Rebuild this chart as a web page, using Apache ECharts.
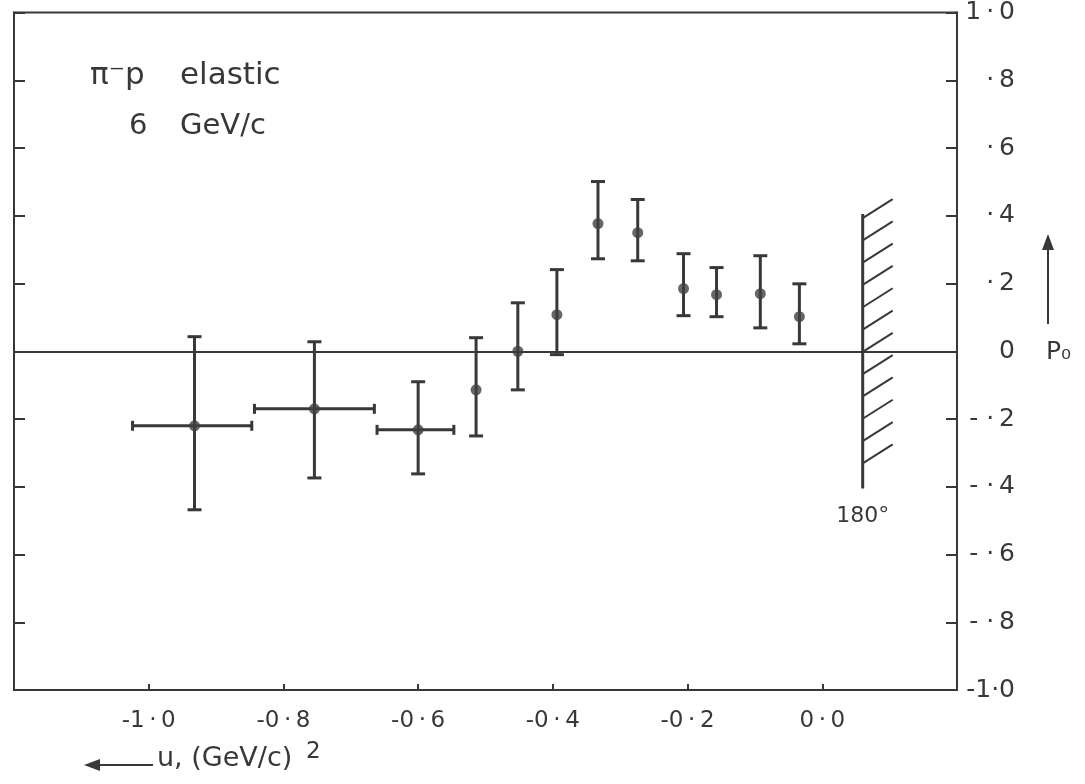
<!DOCTYPE html>
<html>
<head>
<meta charset="utf-8">
<script src="https://cdn.jsdelivr.net/npm/echarts@6/dist/echarts.min.js"></script>
<style>
  html, body { margin: 0; padding: 0; background: #ffffff; }
  #chart { width: 1085px; height: 784px; }
</style>
</head>
<body>
<div id="chart"></div>
<script>
// ---- data ----
// u (GeV/c)^2 of each point
var uValues = [-0.932, -0.754, -0.600, -0.514, -0.452, -0.394, -0.333, -0.274, -0.206, -0.157, -0.092, -0.034];
// polarisation P0
var pValues = [-0.220, -0.170, -0.232, -0.114, 0.000, 0.108, 0.377, 0.350, 0.185, 0.167, 0.170, 0.102];
// lower / upper ends of vertical error bars
var pLow  = [-0.468, -0.374, -0.362, -0.250, -0.114, -0.010, 0.273, 0.267, 0.105, 0.102, 0.069, 0.022];
var pHigh = [ 0.043,  0.028, -0.090,  0.040,  0.143,  0.241, 0.501, 0.448, 0.288, 0.247, 0.282, 0.199];
// horizontal bin ends (only first three points)
var uLow  = [-1.024, -0.843, -0.661, null, null, null, null, null, null, null, null, null];
var uHigh = [-0.847, -0.665, -0.547, null, null, null, null, null, null, null, null, null];
// 180 degree kinematic limit
var limitU = 0.06;
var limitPLow = -0.405;
var limitPHigh = 0.405;
// axis ticks
var xTickValues = [-1.0, -0.8, -0.6, -0.4, -0.2, 0.0];
var xTickLabels = ['-1\u2009·\u20090', '-0\u2009·\u20098', '-0\u2009·\u20096', '-0\u2009·\u20094', '-0\u2009·\u20092', '0\u2009·\u20090'];
var yTickValues = [1.0, 0.8, 0.6, 0.4, 0.2, 0.0, -0.2, -0.4, -0.6, -0.8, -1.0];
var yTickLabels = ['1\u2009·\u20090', '·\u20098', '·\u20096', '·\u20094', '·\u20092', '0', '- ·\u20092', '- ·\u20094', '- ·\u20096', '- ·\u20098', '-1·0'];

var INK = '#383838';
var FONT = 'DejaVu Sans';

function lookup(values, labels, v) {
  for (var i = 0; i < values.length; i++) {
    if (Math.abs(values[i] - v) < 1e-6) return labels[i];
  }
  return '';
}

var pointData = uValues.map(function (u, i) { return [u, pValues[i]]; });
var barData = uValues.map(function (u, i) { return [u, pValues[i], pLow[i], pHigh[i]]; });

var chart = echarts.init(document.getElementById('chart'));
chart.setOption({
  backgroundColor: '#ffffff',
  animation: false,
  grid: { left: 14, right: 128, top: 12, bottom: 94, show: true, borderColor: INK, borderWidth: 2, backgroundColor: 'transparent' },
  xAxis: {
    type: 'value', min: -1.2, max: 0.2, interval: 0.2,
    axisLine: { show: true, onZero: false, lineStyle: { color: INK, width: 2 } },
    axisTick: { show: true, inside: true, length: 6, lineStyle: { color: INK, width: 2 } },
    splitLine: { show: false },
    axisLabel: {
      margin: 20, color: INK, fontFamily: FONT, fontSize: 23,
      formatter: function (v) { return lookup(xTickValues, xTickLabels, v); }
    }
  },
  yAxis: [{
    type: 'value', position: 'right', min: -1, max: 1, interval: 0.2,
    axisLine: { show: true, onZero: false, lineStyle: { color: INK, width: 2 } },
    axisTick: { show: true, inside: true, length: 11, lineStyle: { color: INK, width: 2 } },
    splitLine: { show: false },
    axisLabel: {
      margin: 58, align: 'right', color: INK, fontFamily: FONT, fontSize: 25,
      formatter: function (v) { return lookup(yTickValues, yTickLabels, v); }
    }
  }, {
    type: 'value', position: 'left', min: -1, max: 1, interval: 0.2,
    axisLine: { show: true, onZero: false, lineStyle: { color: INK, width: 2 } },
    axisTick: { show: true, inside: true, length: 11, lineStyle: { color: INK, width: 2 } },
    splitLine: { show: false },
    axisLabel: { show: false }
  }],
  series: [
    {
      type: 'custom',
      name: 'errors',
      silent: true,
      data: barData,
      renderItem: function (params, api) {
        var i = params.dataIndex;
        var lo = api.coord([api.value(0), api.value(2)]);
        var hi = api.coord([api.value(0), api.value(3)]);
        var st = { stroke: INK, lineWidth: 3 };
        var cap = 7;
        var children = [
          { type: 'line', shape: { x1: lo[0], y1: lo[1], x2: hi[0], y2: hi[1] }, style: st },
          { type: 'line', shape: { x1: lo[0] - cap, y1: lo[1], x2: lo[0] + cap, y2: lo[1] }, style: st },
          { type: 'line', shape: { x1: hi[0] - cap, y1: hi[1], x2: hi[0] + cap, y2: hi[1] }, style: st }
        ];
        if (uLow[i] !== null && uHigh[i] !== null) {
          var l = api.coord([uLow[i], api.value(1)]);
          var r = api.coord([uHigh[i], api.value(1)]);
          var cv = 5;
          children.push(
            { type: 'line', shape: { x1: l[0], y1: l[1], x2: r[0], y2: r[1] }, style: st },
            { type: 'line', shape: { x1: l[0], y1: l[1] - cv, x2: l[0], y2: l[1] + cv }, style: st },
            { type: 'line', shape: { x1: r[0], y1: r[1] - cv, x2: r[0], y2: r[1] + cv }, style: st }
          );
        }
        return { type: 'group', children: children };
      },
      z: 3
    },
    {
      type: 'scatter',
      name: 'P0',
      data: pointData,
      symbol: 'circle',
      symbolSize: 11,
      itemStyle: { color: '#404040' },
      z: 4,
      markLine: {
        silent: true, symbol: ['none', 'none'], label: { show: false },
        lineStyle: { color: INK, width: 2, type: 'solid' },
        data: [{ yAxis: 0 }]
      }
    },
    {
      type: 'custom',
      name: 'limit',
      silent: true,
      data: [[limitU, limitPLow, limitPHigh]],
      renderItem: function (params, api) {
        var top = api.coord([api.value(0), api.value(2)]);
        var bot = api.coord([api.value(0), api.value(1)]);
        var st = { stroke: INK, lineWidth: 2 };
        var children = [
          { type: 'line', shape: { x1: top[0], y1: top[1], x2: bot[0], y2: bot[1] }, style: { stroke: INK, lineWidth: 3 } }
        ];
        for (var y = top[1] + 4; y <= bot[1] - 4; y += 22.3) {
          children.push({ type: 'line', shape: { x1: top[0], y1: y, x2: top[0] + 30, y2: y - 19 }, style: st });
        }
        children.push({
          type: 'text',
          style: { x: bot[0], y: bot[1] + 28, text: '180°', fill: INK, font: '22px ' + FONT, align: 'center', verticalAlign: 'middle' }
        });
        return { type: 'group', children: children };
      },
      z: 2
    }
  ],
  graphic: [
    { type: 'text', x: 90, y: 76, style: { text: 'π⁻p', fill: INK, font: '31px ' + FONT, verticalAlign: 'middle' } },
    { type: 'text', x: 180, y: 76, style: { text: 'elastic', fill: INK, font: '31px ' + FONT, verticalAlign: 'middle' } },
    { type: 'text', x: 129, y: 126, style: { text: '6', fill: INK, font: '29px ' + FONT, verticalAlign: 'middle' } },
    { type: 'text', x: 180, y: 126, style: { text: 'GeV/c', fill: INK, font: '29px ' + FONT, verticalAlign: 'middle' } },
    // P0 label and arrow
    { type: 'text', x: 1046, y: 352, style: { text: 'P₀', fill: INK, font: '25px ' + FONT, verticalAlign: 'middle' } },
    { type: 'line', shape: { x1: 1048, y1: 324, x2: 1048, y2: 246 }, style: { stroke: INK, lineWidth: 2 } },
    { type: 'polygon', shape: { points: [[1042, 250], [1048, 234], [1054, 250]] }, style: { fill: INK } },
    // x axis name with arrow
    { type: 'line', shape: { x1: 96, y1: 765, x2: 153, y2: 765 }, style: { stroke: INK, lineWidth: 2 } },
    { type: 'polygon', shape: { points: [[84, 765], [100, 759], [100, 771]] }, style: { fill: INK } },
    { type: 'text', x: 157, y: 759, style: { text: 'u, (GeV/c)', fill: INK, font: '27px ' + FONT, verticalAlign: 'middle' } },
    { type: 'text', x: 306, y: 752, style: { text: '2', fill: INK, font: '23px ' + FONT, verticalAlign: 'middle' } }
  ]
});
</script>
</body>
</html>
